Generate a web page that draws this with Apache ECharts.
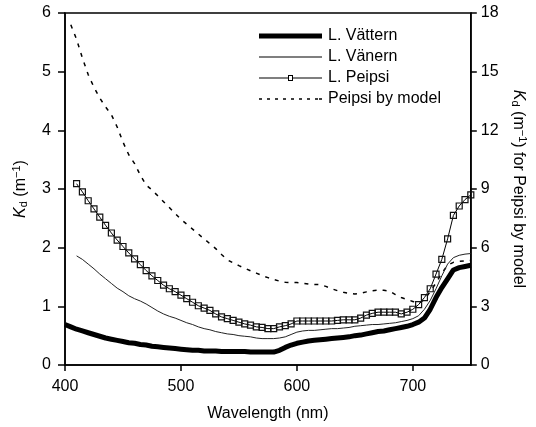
<!DOCTYPE html>
<html>
<head>
<meta charset="utf-8">
<script src="https://cdn.jsdelivr.net/npm/echarts@6/dist/echarts.min.js"></script>
<style>html,body{margin:0;padding:0;background:#fff}#c{width:536px;height:427px}</style>
</head>
<body>
<div id="c"></div>
<script>
var seriesNames = ['L. Vättern', 'L. Vänern', 'L. Peipsi', 'Peipsi by model'];
var xTicks = [400, 500, 600, 700];
var leftTicks = [0, 1, 2, 3, 4, 5, 6];
var rightTicks = [0, 3, 6, 9, 12, 15, 18];

var wlVattern = [400,405,410,415,420,425,430,435,440,445,450,455,460,465,470,475,480,485,490,495,500,505,510,515,520,525,530,535,540,545,550,555,560,565,570,575,580,585,590,595,600,605,610,615,620,625,630,635,640,645,650,655,660,665,670,675,680,685,690,695,700,705,710,715,720,725,730,735,740,745,750];
var vattern = [0.69,0.65,0.61,0.58,0.55,0.52,0.49,0.46,0.44,0.42,0.40,0.38,0.37,0.35,0.34,0.32,0.31,0.30,0.29,0.28,0.27,0.26,0.25,0.25,0.24,0.24,0.24,0.23,0.23,0.23,0.23,0.23,0.22,0.22,0.22,0.22,0.22,0.25,0.30,0.34,0.37,0.39,0.41,0.42,0.43,0.44,0.45,0.46,0.47,0.48,0.50,0.51,0.53,0.55,0.57,0.58,0.60,0.62,0.64,0.66,0.69,0.73,0.80,0.95,1.15,1.32,1.47,1.62,1.66,1.68,1.70];

var wlLakes = [410,415,420,425,430,435,440,445,450,455,460,465,470,475,480,485,490,495,500,505,510,515,520,525,530,535,540,545,550,555,560,565,570,575,580,585,590,595,600,605,610,615,620,625,630,635,640,645,650,655,660,665,670,675,680,685,690,695,700,705,710,715,720,725,730,735,740,745,750];
var vanern = [1.86,1.80,1.72,1.64,1.55,1.47,1.39,1.31,1.25,1.18,1.13,1.09,1.04,0.98,0.92,0.87,0.83,0.80,0.76,0.72,0.69,0.65,0.62,0.60,0.57,0.55,0.53,0.52,0.50,0.49,0.48,0.46,0.45,0.45,0.45,0.46,0.48,0.52,0.56,0.58,0.59,0.59,0.60,0.61,0.62,0.62,0.63,0.64,0.66,0.67,0.68,0.69,0.69,0.70,0.71,0.72,0.74,0.76,0.79,0.84,0.95,1.10,1.30,1.52,1.72,1.83,1.87,1.89,1.90];
var peipsi = [3.09,2.95,2.80,2.66,2.52,2.38,2.25,2.13,2.02,1.91,1.81,1.71,1.61,1.52,1.44,1.36,1.30,1.25,1.19,1.13,1.07,1.01,0.97,0.93,0.87,0.82,0.79,0.76,0.73,0.70,0.68,0.65,0.64,0.62,0.62,0.65,0.67,0.70,0.75,0.75,0.75,0.75,0.75,0.75,0.75,0.76,0.77,0.77,0.77,0.80,0.85,0.88,0.90,0.90,0.90,0.90,0.87,0.90,0.95,1.03,1.15,1.30,1.55,1.80,2.15,2.55,2.71,2.82,2.90];

var wlModel = [405,410,415,420,425,430,435,440,445,450,455,460,465,470,475,480,485,490,495,500,505,510,515,520,525,530,535,540,545,550,555,560,565,570,575,580,585,590,595,600,605,610,615,620,625,630,635,640,645,650,655,660,665,670,675,680,685,690,695,700,705,710,715,720,725,730,735,740,745,750];
var model = [17.4,16.65,15.7,14.85,14.2,13.65,13.2,12.8,12.17,11.4,10.75,10.3,9.7,9.2,8.95,8.65,8.35,8.05,7.75,7.45,7.2,6.95,6.7,6.45,6.2,5.95,5.65,5.38,5.22,5.08,4.95,4.82,4.7,4.57,4.47,4.37,4.29,4.23,4.22,4.22,4.18,4.14,4.12,4.11,4.02,3.9,3.8,3.72,3.67,3.63,3.67,3.74,3.8,3.83,3.82,3.77,3.6,3.45,3.35,3.25,3.15,3.35,3.75,4.2,4.7,5.1,5.25,5.3,5.33,5.35];

function pairs(xs, ys) { return xs.map(function (x, i) { return [x, ys[i]]; }); }

var FONT = 'Liberation Sans, Arial, sans-serif';
var richName = {
  i: { fontStyle: 'italic', fontSize: 16, fontFamily: FONT, color: '#000' },
  sub: { fontSize: 11, fontFamily: FONT, color: '#000', padding: [7, 0, 0, 0] },
  sup: { fontSize: 11, fontFamily: FONT, color: '#000', padding: [0, 0, 8, 0] }
};

// legend glyphs (legend icons only)
var iconThick = 'path://M0,0h63v5h-63Z';
var iconThin = 'path://M0,0h63v1h-63Z';
var iconMarker = 'path://M0,2.5h29v1h-29Z M34,2.5h29v1h-29Z M29,0h5v1h-5Z M29,5h5v1h-5Z M29,0h1v6h-1Z M33,0h1v6h-1Z';
var iconDash = 'path://M0,0h3v1.5h-3Z M8,0h3v1.5h-3Z M16,0h3v1.5h-3Z M24,0h3v1.5h-3Z M32,0h3v1.5h-3Z M40,0h3v1.5h-3Z M48,0h3v1.5h-3Z M56,0h3v1.5h-3Z M60,0h3v1.5h-3Z';
var legendIcons = [iconThick, iconThin, iconMarker, iconDash];

var chart = echarts.init(document.getElementById('c'), null, { renderer: 'canvas' });
chart.setOption({
  animation: false,
  backgroundColor: '#fff',
  textStyle: { fontFamily: FONT, color: '#000' },
  grid: { left: 65, right: 64, top: 13, bottom: 59, show: true, borderColor: '#000', borderWidth: 1.5, backgroundColor: 'transparent' },
  legend: {
    data: seriesNames.map(function (n, i) {
      return { name: n, icon: legendIcons[i], itemStyle: { color: '#000', borderWidth: 0, opacity: 1 } };
    }),
    orient: 'vertical',
    left: 254,
    top: 23,
    itemWidth: 63,
    itemHeight: 14,
    itemGap: 5,
    symbolKeepAspect: true,
    textStyle: { fontSize: 16, fontFamily: FONT, color: '#000', padding: [0, 0, 0, 1] }
  },
  xAxis: {
    type: 'value', min: 400, max: 750, interval: 100,
    name: 'Wavelength (nm)', nameLocation: 'middle', nameGap: 41,
    nameTextStyle: { fontSize: 16, fontFamily: FONT, color: '#000' },
    axisLine: { show: true, lineStyle: { color: '#000', width: 1.5 } },
    axisTick: { show: true, inside: false, length: 6, lineStyle: { color: '#000', width: 1.5 }, customValues: xTicks },
    axisLabel: { fontSize: 16, color: '#000', margin: 14, fontFamily: FONT, customValues: xTicks },
    splitLine: { show: false }
  },
  yAxis: [{
    type: 'value', min: 0, max: 6, interval: 1, position: 'left',
    name: '{i|K}{sub|d} (m{sup|−1})', nameLocation: 'middle', nameGap: 35,
    nameTextStyle: { fontSize: 16, fontFamily: FONT, color: '#000', rich: richName },
    axisLine: { show: true, lineStyle: { color: '#000', width: 1.5 } },
    axisTick: { show: true, inside: false, length: 7, lineStyle: { color: '#000', width: 1.5 }, customValues: leftTicks },
    axisLabel: { fontSize: 16, color: '#000', margin: 14, fontFamily: FONT, customValues: leftTicks },
    splitLine: { show: false }
  }, {
    type: 'value', min: 0, max: 18, interval: 3, position: 'right',
    name: '{i|K}{sub|d} (m{sup|−1}) for Peipsi by model', nameLocation: 'middle', nameGap: 36, nameRotate: -90,
    nameTextStyle: { fontSize: 16, fontFamily: FONT, color: '#000', rich: richName },
    axisLine: { show: true, lineStyle: { color: '#000', width: 1.5 } },
    axisTick: { show: true, inside: false, length: 6, lineStyle: { color: '#000', width: 1.5 }, customValues: rightTicks },
    axisLabel: { fontSize: 16, color: '#000', margin: 10, fontFamily: FONT, customValues: rightTicks },
    splitLine: { show: false }
  }],
  series: [{
    name: seriesNames[0], type: 'line', yAxisIndex: 0, symbol: 'none',
    data: pairs(wlVattern, vattern),
    lineStyle: { color: '#000', width: 5 }, itemStyle: { color: '#000' }, z: 3
  }, {
    name: seriesNames[1], type: 'line', yAxisIndex: 0, symbol: 'none',
    data: pairs(wlLakes, vanern),
    lineStyle: { color: '#222', width: 1 }, itemStyle: { color: '#222' }, z: 2
  }, {
    name: seriesNames[2], type: 'line', yAxisIndex: 0, symbol: 'rect', symbolSize: 6, showSymbol: true,
    data: pairs(wlLakes, peipsi),
    lineStyle: { color: '#000', width: 1 },
    itemStyle: { color: 'rgba(255,255,255,0)', borderColor: '#111', borderWidth: 1.2 }, z: 4
  }, {
    name: seriesNames[3], type: 'line', yAxisIndex: 1, symbol: 'none',
    data: pairs(wlModel, model),
    lineStyle: { color: '#000', width: 1.5, type: [4, 6] }, itemStyle: { color: '#000' }, z: 1
  }]
});
</script>
</body>
</html>
